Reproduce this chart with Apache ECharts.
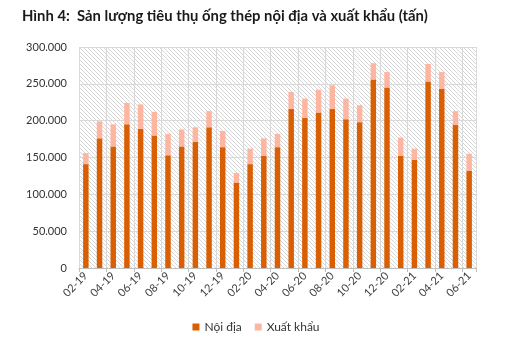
<!DOCTYPE html>
<html><head><meta charset="utf-8">
<script src="https://cdn.jsdelivr.net/npm/echarts@6/dist/echarts.min.js"></script>
<style>html,body{margin:0;padding:0;background:#fff}#c{width:512px;height:341px}</style>
</head><body><div id="c"></div>
<script>
const categories = ['02-19','03-19','04-19','05-19','06-19','07-19','08-19','09-19','10-19','11-19','12-19',
 '01-20','02-20','03-20','04-20','05-20','06-20','07-20','08-20','09-20','10-20','11-20','12-20',
 '01-21','02-21','03-21','04-21','05-21','06-21'];
const domestic = [141,176,165,195,189,180,153,165,171,191,164,116,141,152,164,216,204,211,216,202,198,256,245,152,147,253,243,194,132].map(v=>v*1000);
const exportVals = [15,23,30,29,33,32,29,23,20,22,22,13,21,24,18,23,26,31,32,28,23,22,21,25,15,24,23,19,23].map(v=>v*1000);
const yTicks = {min:0, max:300000, interval:50000};
const titleText = 'Hình 4:  Sản lượng tiêu thụ ống thép nội địa và xuất khẩu (tấn)';

function hatch(){
  const s=4, c=document.createElement('canvas'); c.width=s; c.height=s;
  const g=c.getContext('2d'); g.fillStyle='#fff'; g.fillRect(0,0,s,s);
  g.fillStyle='#d6d6d6';
  for(let i=0;i<s;i++) g.fillRect(i,i,1,1);
  return c;
}
const font='Lato';
// fit title width
const mc=document.createElement('canvas').getContext('2d');
mc.font='bold 10px '+font;
let tfs = Math.min(15, Math.max(12, 10*406/mc.measureText(titleText).width));
const chart = echarts.init(document.getElementById('c'), null, {renderer:'canvas'});
chart.setOption({
  animation:false,
  title:{text:titleText, left:17, top:4,
    textStyle:{fontFamily:font, fontWeight:'bold', fontSize:tfs, color:'#1a1a1a'}},
  grid:{left:79, right:36, top:47, bottom:73, show:true, borderWidth:0,
    backgroundColor:{image:hatch(), repeat:'repeat'}},
  legend:{bottom:3, left:'center', itemWidth:7, itemHeight:7, itemGap:13, icon:'rect',
    textStyle:{fontFamily:font, fontSize:12, color:'#333'},
    data:['Nội địa','Xuất khẩu']},
  xAxis:{type:'category', data:categories, boundaryGap:true,
    axisLine:{lineStyle:{color:'#bfbfbf'}},
    axisTick:{show:true, interval:1, length:4, lineStyle:{color:'#bfbfbf'}},
    splitLine:{show:true, interval:1, lineStyle:{color:'#d9d9d9'}},
    axisLabel:{interval:1, rotate:45, fontFamily:font, fontSize:11, color:'#404040', margin:6}},
  yAxis:{type:'value', min:yTicks.min, max:yTicks.max, interval:yTicks.interval,
    axisLine:{show:false}, axisTick:{show:false},
    splitLine:{lineStyle:{color:'#d9d9d9'}},
    axisLabel:{fontFamily:font, fontSize:11, color:'#333', margin:12,
      formatter:v=>v===0?'0':v.toLocaleString('de-DE')}},
  series:[
    {name:'Nội địa', type:'bar', stack:'t', data:domestic, barWidth:'40%', itemStyle:{color:'#D95F02'}},
    {name:'Xuất khẩu', type:'bar', stack:'t', data:exportVals, barWidth:'40%', itemStyle:{color:'#FFB6A0'}}
  ]
});
</script></body></html>
